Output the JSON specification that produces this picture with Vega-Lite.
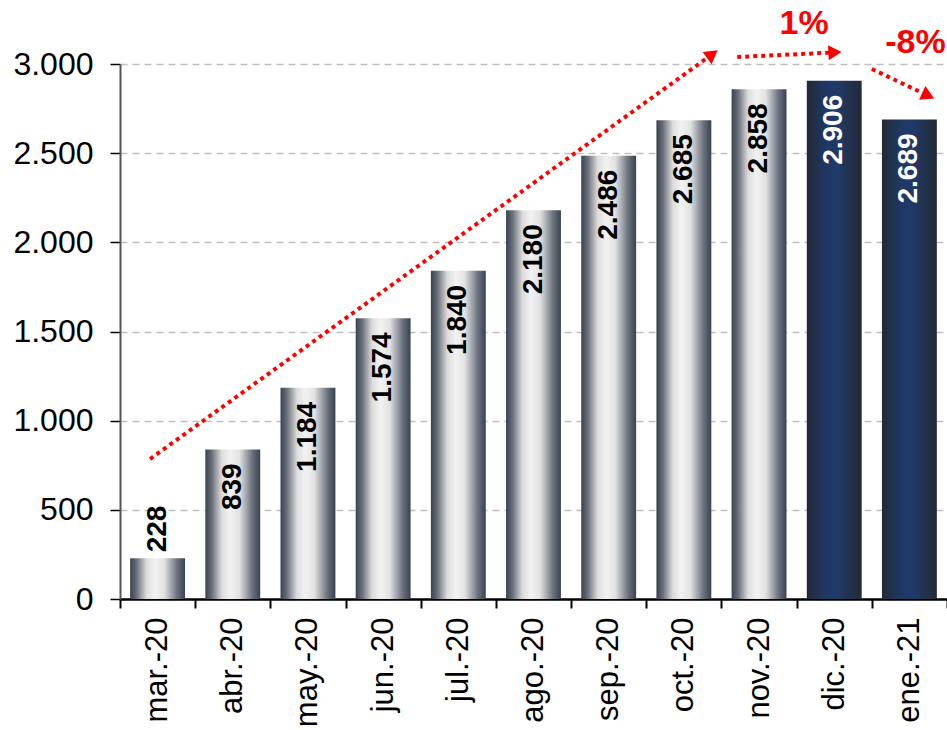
{
  "$schema": "https://vega.github.io/schema/vega-lite/v6.json",
  "autosize": "none",
  "width": 827,
  "height": 535,
  "padding": {"left": 120, "top": 64, "right": 0, "bottom": 131},
  "background": "white",
  "config": {
    "locale": {"number": {"decimal": ",", "thousands": ".", "grouping": [3], "currency": ["", " €"]}},
    "view": {"stroke": null},
    "font": "Liberation Sans"
  },
  "datasets": {
    "meses": [
      {"mes": "mar.-20", "valor": 228, "tipo": "gris"},
      {"mes": "abr.-20", "valor": 839, "tipo": "gris"},
      {"mes": "may.-20", "valor": 1184, "tipo": "gris"},
      {"mes": "jun.-20", "valor": 1574, "tipo": "gris"},
      {"mes": "jul.-20", "valor": 1840, "tipo": "gris"},
      {"mes": "ago.-20", "valor": 2180, "tipo": "gris"},
      {"mes": "sep.-20", "valor": 2486, "tipo": "gris"},
      {"mes": "oct.-20", "valor": 2685, "tipo": "gris"},
      {"mes": "nov.-20", "valor": 2858, "tipo": "gris"},
      {"mes": "dic.-20", "valor": 2906, "tipo": "azul"},
      {"mes": "ene.-21", "valor": 2689, "tipo": "azul"}
    ],
    "flechas": [
      {"flecha": "a", "orden": 1, "px": 0.40, "py": 785},
      {"flecha": "a", "orden": 2, "px": 7.88, "py": 3055},
      {"flecha": "b", "orden": 1, "px": 8.21, "py": 3039},
      {"flecha": "b", "orden": 2, "px": 9.51, "py": 3065},
      {"flecha": "c", "orden": 1, "px": 10.0, "py": 2972},
      {"flecha": "c", "orden": 2, "px": 10.75, "py": 2822}
    ],
    "notas": [
      {"texto": "1%", "px": 9.10, "py": 3224},
      {"texto": "-8%", "px": 10.58, "py": 3120}
    ]
  },
  "resolve": {"scale": {"x": "independent"}, "axis": {"x": "independent"}},
  "layer": [
    {
      "data": {"name": "meses"},
      "encoding": {
        "x": {
          "field": "mes", "type": "nominal", "sort": null,
          "scale": {"paddingInner": 0, "paddingOuter": 0},
          "axis": {
            "title": null, "labelAngle": 270, "labelAlign": "right", "labelBaseline": "middle",
            "labelFontSize": 31, "labelColor": "#000000", "labelPadding": 9,
            "tickBand": "extent", "tickSize": 9, "tickColor": "#000000", "tickWidth": 2,
            "domainColor": "#000000", "domainWidth": 2.5, "grid": false
          }
        },
        "y": {
          "field": "valor", "type": "quantitative",
          "scale": {"domain": [0, 3000], "nice": false},
          "axis": {
            "title": null, "values": [0, 500, 1000, 1500, 2000, 2500, 3000], "format": ",d",
            "labelFontSize": 32, "labelColor": "#000000", "labelPadding": 17,
            "tickSize": 10, "tickColor": "#000000", "tickWidth": 1.5,
            "domainColor": "#555555", "domainWidth": 2,
            "grid": true, "gridColor": "#c0c0c0", "gridDash": [7, 5], "gridWidth": 1.5
          }
        }
      },
      "layer": [
        {
          "transform": [{"filter": "datum.tipo === 'gris'"}],
          "mark": {
            "type": "bar", "width": {"band": 0.73},
            "color": {
              "gradient": "linear", "x1": 0, "x2": 1, "y1": 0, "y2": 0,
              "stops": [
                {"offset": 0, "color": "#394250"},
                {"offset": 0.12, "color": "#6a707b"},
                {"offset": 0.3, "color": "#dcdcdc"},
                {"offset": 0.45, "color": "#f2f2f2"},
                {"offset": 0.62, "color": "#e2e2e2"},
                {"offset": 0.85, "color": "#6e7480"},
                {"offset": 1, "color": "#394250"}
              ]
            }
          }
        },
        {
          "transform": [{"filter": "datum.tipo === 'azul'"}],
          "mark": {
            "type": "bar", "width": {"band": 0.73},
            "color": {
              "gradient": "linear", "x1": 0, "x2": 1, "y1": 0, "y2": 0,
              "stops": [
                {"offset": 0, "color": "#232a36"},
                {"offset": 0.35, "color": "#1f3864"},
                {"offset": 0.55, "color": "#203a68"},
                {"offset": 1, "color": "#232a36"}
              ]
            }
          }
        },
        {
          "transform": [{"filter": "datum.valor >= 500"}],
          "mark": {"type": "text", "angle": 270, "align": "right", "baseline": "middle", "dx": -14, "fontSize": 28, "fontWeight": "bold"},
          "encoding": {
            "text": {"field": "valor", "type": "quantitative", "format": ",d"},
            "color": {"condition": {"test": "datum.tipo === 'azul'", "value": "#ffffff"}, "value": "#000000"}
          }
        },
        {
          "transform": [{"filter": "datum.valor < 500"}],
          "mark": {"type": "text", "angle": 270, "align": "left", "baseline": "middle", "dx": 6, "fontSize": 28, "fontWeight": "bold", "color": "#000000"},
          "encoding": {
            "text": {"field": "valor", "type": "quantitative", "format": ",d"}
          }
        }
      ]
    },
    {
      "layer": [
        {
          "data": {"name": "flechas"},
          "mark": {"type": "line", "color": "#ff0000", "strokeWidth": 4, "strokeDash": [4, 4], "strokeCap": "butt"},
          "encoding": {
            "x": {"field": "px", "type": "quantitative", "scale": {"domain": [0, 11], "nice": false, "zero": false}, "axis": null},
            "y": {"field": "py", "type": "quantitative"},
            "detail": {"field": "flecha"},
            "order": {"field": "orden"}
          }
        },
        {
          "data": {"name": "flechas"},
          "transform": [{"filter": "datum.flecha === 'a' && datum.orden === 2"}],
          "mark": {"type": "point", "shape": "triangle-right", "filled": true, "color": "#ff0000", "size": 230, "angle": 324, "opacity": 1},
          "encoding": {
            "x": {"field": "px", "type": "quantitative"},
            "y": {"field": "py", "type": "quantitative"}
          }
        },
        {
          "data": {"name": "flechas"},
          "transform": [{"filter": "datum.flecha === 'b' && datum.orden === 2"}],
          "mark": {"type": "point", "shape": "triangle-right", "filled": true, "color": "#ff0000", "size": 230, "angle": 357, "opacity": 1},
          "encoding": {
            "x": {"field": "px", "type": "quantitative"},
            "y": {"field": "py", "type": "quantitative"}
          }
        },
        {
          "data": {"name": "flechas"},
          "transform": [{"filter": "datum.flecha === 'c' && datum.orden === 2"}],
          "mark": {"type": "point", "shape": "triangle-right", "filled": true, "color": "#ff0000", "size": 230, "angle": 25, "opacity": 1},
          "encoding": {
            "x": {"field": "px", "type": "quantitative"},
            "y": {"field": "py", "type": "quantitative"}
          }
        },
        {
          "data": {"name": "notas"},
          "mark": {"type": "text", "color": "#ff0000", "fontSize": 34, "fontWeight": "bold", "align": "center", "baseline": "middle"},
          "encoding": {
            "x": {"field": "px", "type": "quantitative"},
            "y": {"field": "py", "type": "quantitative"},
            "text": {"field": "texto"}
          }
        }
      ]
    }
  ]
}
